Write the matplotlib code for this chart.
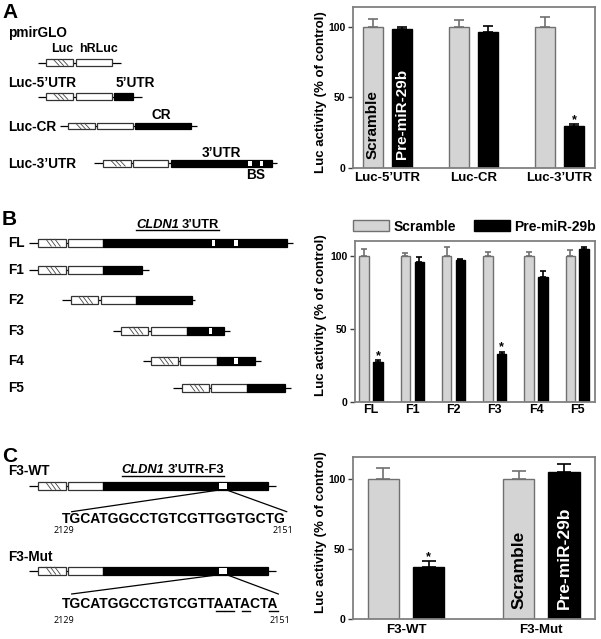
import matplotlib
matplotlib.use('Agg')
import matplotlib.pyplot as plt
from matplotlib.patches import Rectangle
import numpy as np

plt.rcParams['font.family'] = ['Liberation Sans', 'DejaVu Sans']
plt.rcParams['font.weight'] = 'bold'

# ---------------- data ----------------
groups_a = ["Luc-5\u2019UTR", "Luc-CR", "Luc-3\u2019UTR"]
scr_a = [100, 100, 100]
scr_a_err = [5.4, 4.4, 6.6]
pre_a = [98.4, 96.0, 29.7]
pre_a_err = [1.2, 4.7, 1.6]
sig_a = [False, False, True]

groups_b = ['FL', 'F1', 'F2', 'F3', 'F4', 'F5']
scr_b = [100, 100, 100, 100, 100, 100]
scr_b_err = [4.3, 1.6, 6.2, 2.7, 2.3, 3.9]
pre_b = [27.2, 95.9, 97.0, 32.6, 85.4, 104.6]
pre_b_err = [1.2, 3.4, 1.0, 1.6, 3.9, 1.6]
sig_b = [True, False, False, True, False, False]

groups_c = ['F3-WT', 'F3-Mut']
scr_c = [100, 100]
scr_c_err = [8.1, 6.0]
pre_c = [37.4, 104.8]
pre_c_err = [3.6, 5.7]
sig_c = [True, False]

yticks = [0, 50, 100]
ylabel = 'Luc activity (% of control)'
series_names = ['Scramble', 'Pre-miR-29b']

seq_wt = 'TGCATGGCCTGTCGTTGGTGCTG'
seq_mut = 'TGCATGGCCTGTCGTTAATACTA'
seq_start, seq_end = '2129', '2151'

W, H = 601, 639
fig = plt.figure(figsize=(W / 100, H / 100), dpi=100)

GRAY = '#d4d4d4'
EDGE = '#707070'
SPINE = '#808080'
LFS = 9.8


def px_axes(l, t, r, b):
    return fig.add_axes([l / W, 1 - b / H, (r - l) / W, (b - t) / H])


def bar_panel(ax, groups, scr, scr_err, pre, pre_err, sig, ytop, capsize,
              xfs, xpad, xlim, lab_xy, star_fs=9):
    x = np.arange(len(groups))
    width, off = 0.23, 0.168
    ax.bar(x - off, scr, width, color=GRAY, edgecolor=EDGE, linewidth=1.0,
           label=series_names[0], zorder=2)
    ax.bar(x + off, pre, width, color='black', edgecolor='black', linewidth=1.0,
           label=series_names[1], zorder=2)
    z = np.zeros(len(x))
    ax.errorbar(x - off, scr, yerr=[z, scr_err], fmt='none', ecolor=EDGE,
                elinewidth=1.2, capsize=capsize, capthick=1.2, zorder=3)
    ax.errorbar(x + off, pre, yerr=[z, pre_err], fmt='none', ecolor='black',
                elinewidth=1.2, capsize=capsize, capthick=1.2, zorder=3)
    for xi, v, e, s in zip(x, pre, pre_err, sig):
        if s:
            ax.text(xi + off, v + e + 0.8, '*', ha='center', va='baseline',
                    fontsize=star_fs, fontweight='bold')
    ax.set_xlim(*xlim)
    ax.set_ylim(0, ytop)
    ax.set_xticks(x)
    ax.set_xticklabels(groups, fontsize=xfs, fontweight='bold')
    ax.set_yticks(yticks)
    ax.set_yticklabels([str(t) for t in yticks], fontsize=7.5, fontweight='bold')
    ax.tick_params(axis='x', length=0, pad=xpad)
    ax.tick_params(axis='y', length=3.5, width=1, pad=2, color='#404040')
    for sp in ax.spines.values():
        sp.set_color(SPINE)
        sp.set_linewidth(1.3)
    ax.set_ylabel(ylabel, fontsize=9.5, fontweight='bold')
    ax.yaxis.set_label_coords(*lab_xy)
    return x, off


# ---------------- bar charts ----------------
axa = px_axes(353.3, 7.3, 595, 168.3)
xa, off = bar_panel(axa, groups_a, scr_a, scr_a_err, pre_a, pre_a_err, sig_a,
                    113.7, 3.4, 9.5, 3, (-0.393, 2.412), (-0.107, 0.476))
axa.text(xa[0] - off, 6.5, series_names[0], rotation=90, ha='center', va='bottom',
         fontsize=11, fontweight='bold', color='black', zorder=4)
axa.text(xa[0] + off, 6.5, series_names[1], rotation=90, ha='center', va='bottom',
         fontsize=11, fontweight='bold', color='white', zorder=4)

axb = px_axes(355, 241, 595, 401.7)
bar_panel(axb, groups_b, scr_b, scr_b_err, pre_b, pre_b_err, sig_b,
          110, 2.2, 9, 2, (-0.39, 5.43), (-0.115, 0.54))
axb.legend(loc='lower left', bbox_to_anchor=(-0.007, 1.045), ncol=2, frameon=False,
           handlelength=2.6, handleheight=0.85, handletextpad=0.3,
           columnspacing=1.3, borderpad=0, borderaxespad=0,
           prop={'weight': 'bold', 'size': 10})

axc = px_axes(353.3, 457.3, 595, 618.8)
xc, off = bar_panel(axc, groups_c, scr_c, scr_c_err, pre_c, pre_c_err, sig_c,
                    115.5, 5.3, 9.5, 3.5, (-0.39, 1.397), (-0.107, 0.539))
axc.text(xc[1] - off, 7, series_names[0], rotation=90, ha='center', va='bottom',
         fontsize=12.5, fontweight='bold', color='black', zorder=4)
axc.text(xc[1] + off, 7, series_names[1], rotation=90, ha='center', va='bottom',
         fontsize=12.5, fontweight='bold', color='white', zorder=4)

# ---------------- schematic overlay (pixel coordinates) ----------------
ov = fig.add_axes([0, 0, 1, 1], zorder=-1)
ov.set_xlim(0, W)
ov.set_ylim(H, 0)
ov.axis('off')

BOX_EC = '#333333'


def construct(y, line, hatch, white, black=None, gaps=(), h=8):
    ov.plot(line, [y, y], color='black', lw=0.9, solid_capstyle='butt')
    ov.add_patch(Rectangle((hatch[0], y - h / 2), hatch[1] - hatch[0], h,
                           fc='white', ec=BOX_EC, lw=0.9, zorder=3))
    wdt = hatch[1] - hatch[0]
    for f in (0.39, 0.55, 0.71):
        xm = hatch[0] + f * wdt
        ov.plot([xm - 2.6, xm + 2.6], [y - h / 2 + 0.5, y + h / 2 - 0.5],
                color='#444444', lw=0.6, zorder=4)
    ov.add_patch(Rectangle((white[0], y - h / 2), white[1] - white[0], h,
                           fc='white', ec=BOX_EC, lw=0.9, zorder=3))
    if black is not None:
        ov.add_patch(Rectangle((black[0], y - h / 2), black[1] - black[0], h,
                               fc='black', ec='black', lw=0.9, zorder=3))
        for g in gaps:
            ov.add_patch(Rectangle((g[0], y - h / 2 + 1), g[1] - g[0], h - 2,
                                   fc='white', ec='none', zorder=4))


def label(x, y, s, fs=LFS, ha='left', **kw):
    return ov.text(x, y, s, fontsize=fs, ha=ha, va='baseline', fontweight='bold', **kw)


fig.canvas.draw()
rend = fig.canvas.get_renderer()


def titled(xl, xr, y, yline, rest):
    """Italic gene name + normal suffix, centred between xl and xr, underlined."""
    t1 = label(0, y, 'CLDN1', fs=9.3, style='italic')
    t2 = label(0, y, rest, fs=9.3)
    w1 = t1.get_window_extent(rend).width
    w2 = t2.get_window_extent(rend).width
    wsp = 3.0
    total = w1 + wsp + w2
    start = (xl + xr) / 2 - total / 2
    t1.set_x(start)
    t2.set_x(start + w1 + wsp)
    ov.plot([start, start + total], [yline, yline], color='black', lw=1.0)


# Panel A schematic
ov.text(2, 18.5, 'A', fontsize=15, fontweight='bold', va='baseline')
label(8.3, 37.3, 'pmirGLO')
label(50.7, 52.3, 'Luc', fs=8.9)
label(79.3, 52.3, 'hRLuc', fs=8.9)
construct(62.7, (38.3, 120.7), (45.7, 73.3), (76, 111.7), h=6.5)
label(8.3, 87.3, 'Luc-5\u2019UTR')
label(116, 87.3, '5\u2019UTR')
construct(96.7, (38.3, 141.7), (45.7, 73.3), (76, 111.7), (114.3, 133.3), h=6.5)
label(8.3, 130.7, 'Luc-CR')
label(161, 119, 'CR', ha='center')
construct(126, (60, 196.7), (67.7, 95), (96.7, 132.7), (135, 191), h=6.5)
label(8.3, 168.3, 'Luc-3\u2019UTR')
label(221.7, 156.7, '3\u2019UTR', ha='center')
label(255.3, 179.3, 'BS', ha='center')
construct(163.3, (94.3, 276.7), (102.7, 130.7), (132.7, 168.3), (171, 271.7),
          gaps=((248.3, 251.7), (260, 263.3)), h=6.5)

# Panel B schematic
ov.text(2, 225, 'B', fontsize=15, fontweight='bold', va='baseline')
titled(136.7, 218.3, 228.3, 230.4, '3\u2019UTR')
b_rows = [
    ('FL', 242.7, (29.3, 293.3), (37.7, 65.7), (67.7, 103.3), (103.3, 286.7),
     ((211.7, 215), (234.3, 237.7))),
    ('F1', 270.0, (29.3, 149.3), (37.7, 65.7), (67.7, 103.3), (103.3, 141.7), ()),
    ('F2', 300.0, (62.3, 195), (70.7, 97.7), (100.7, 136), (136, 192.3), ()),
    ('F3', 330.7, (112.7, 230), (120.7, 148.3), (150.7, 186.7), (186.7, 224.3),
     ((209, 212.3),)),
    ('F4', 360.7, (142.7, 260.7), (151, 178.3), (180.3, 216.7), (216.7, 255),
     ((234.3, 237.7),)),
    ('F5', 387.7, (173.3, 290.7), (181.7, 209), (211, 246.7), (246.7, 285), ()),
]
for name, y, ln, hb, wb, bb, gp in b_rows:
    label(8.3, y + 4.5, name)
    construct(y, ln, hb, wb, bb, gaps=gp, h=8)

# Panel C schematic
ov.text(2, 461.5, 'C', fontsize=15, fontweight='bold', va='baseline')
label(8.3, 475, 'F3-WT')
titled(123.3, 222.7, 472.7, 475.6, '3\u2019UTR-F3')
construct(486, (29.3, 276), (37.7, 65.7), (67.7, 103.3), (103.3, 268.3),
          gaps=((219, 226.7),), h=8)
ov.plot([219, 71.7], [490, 511.7], color='black', lw=0.9)
ov.plot([226.7, 286.7], [490, 511.7], color='black', lw=0.9)
ov.text(61.7, 523.3, seq_wt, fontsize=10, fontweight='bold', va='baseline')
NUMFONT = dict(fontsize=6.5, fontweight='normal', family=['Open Sans', 'DejaVu Sans'],
               va='baseline')
ov.text(54, 533.3, seq_start, **NUMFONT)
ov.text(272.7, 533.3, seq_end, **NUMFONT)

label(8.3, 560.7, 'F3-Mut')
construct(570.7, (29.3, 276), (37.7, 65.7), (67.7, 103.3), (103.3, 268.3),
          gaps=((219, 226.7),), h=8)
ov.plot([219, 71.7], [574.7, 594], color='black', lw=0.9)
ov.plot([226.7, 278.3], [574.7, 594], color='black', lw=0.9)
tm = ov.text(61.7, 608.3, seq_mut, fontsize=10, fontweight='bold', va='baseline')
ov.text(54, 622.7, seq_start, **NUMFONT)
ov.text(270, 622.7, seq_end, **NUMFONT)

# underline mutated bases (positions that differ from WT)
fig.canvas.draw()
rend = fig.canvas.get_renderer()
prop = tm.get_fontproperties()
bb0 = tm.get_window_extent(rend)
x0 = bb0.x0


def wpx(s):
    if not s:
        return 0.0
    w, h, d = rend.get_text_width_height_descent(s, prop, ismath=False)
    return w


full_w = wpx(seq_mut)
scale = (bb0.x1 - bb0.x0) / full_w if full_w else 1.0
for i, (a, b) in enumerate(zip(seq_wt, seq_mut)):
    if a != b:
        xs = x0 + wpx(seq_mut[:i]) * scale
        xe = x0 + wpx(seq_mut[:i + 1]) * scale
        ov.plot([xs + 0.3, xe - 0.3], [610.8, 610.8], color='black', lw=1.0)

fig.savefig('out.png', dpi=100)
